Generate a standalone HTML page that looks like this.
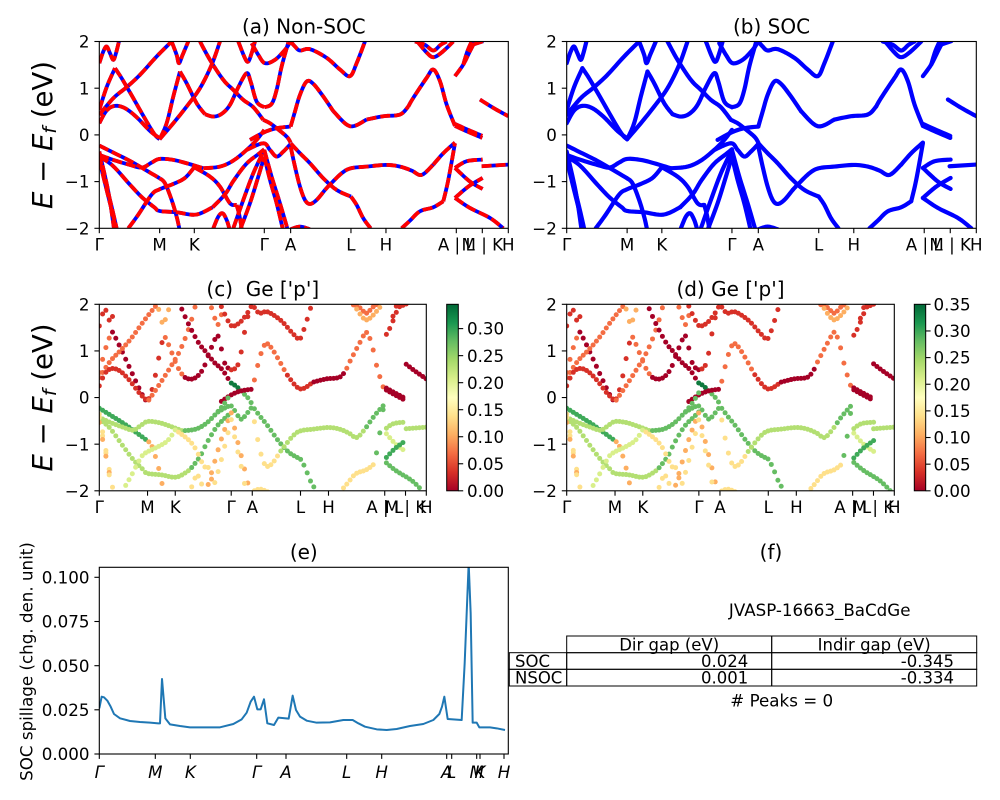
<!DOCTYPE html>
<html><head><meta charset="utf-8">
<style>
html,body{margin:0;padding:0;background:#fff;}
svg{display:block;font-family:"DejaVu Sans","Liberation Sans",sans-serif;}
.t{font-size:16.7px;fill:#000;}
.ti{font-size:20px;fill:#000;}
.tm{font-size:16.7px;fill:#000;}
.tb{font-size:16.5px;fill:#000;}
.it{font-style:italic;}
</style></head><body>
<svg id="s" width="1000" height="800" viewBox="0 0 1000 800" xmlns="http://www.w3.org/2000/svg">
<defs>
<clipPath id="cA"><rect x="99.3" y="41.5" width="409" height="186.8"/></clipPath>
<clipPath id="cB"><rect x="566.7" y="41.5" width="409.6" height="186.8"/></clipPath>
<clipPath id="cC"><rect x="99.3" y="304.3" width="327" height="186.5"/></clipPath>
<clipPath id="cD"><rect x="566.7" y="304.3" width="327.6" height="186.5"/></clipPath>
<clipPath id="cE"><rect x="99.3" y="567.3" width="409" height="186.7"/></clipPath>
<linearGradient id="cmap" x1="0" y1="1" x2="0" y2="0">
<stop offset="0" stop-color="#a50026"/><stop offset="0.1" stop-color="#d73027"/>
<stop offset="0.2" stop-color="#f46d43"/><stop offset="0.3" stop-color="#fdae61"/>
<stop offset="0.4" stop-color="#fee08b"/><stop offset="0.5" stop-color="#ffffbf"/>
<stop offset="0.6" stop-color="#d9ef8b"/><stop offset="0.7" stop-color="#a6d96a"/>
<stop offset="0.8" stop-color="#66bd63"/><stop offset="0.9" stop-color="#1a9850"/>
<stop offset="1" stop-color="#006837"/>
</linearGradient>
</defs>
<g id="gA" clip-path="url(#cA)"></g>
<g id="gB" clip-path="url(#cB)"></g>
<g id="gC" clip-path="url(#cC)"></g>
<g id="gD" clip-path="url(#cD)"></g>
<g id="gE" clip-path="url(#cE)"></g>
<g id="gT"></g>

<!-- colorbars -->
<rect x="446.7" y="304.3" width="11.6" height="186.5" fill="url(#cmap)" stroke="#000" stroke-width="1"/>
<rect x="914.3" y="304.3" width="11.4" height="186.5" fill="url(#cmap)" stroke="#000" stroke-width="1"/>

<!-- titles -->
<text class="ti" x="303.8" y="33.3" text-anchor="middle">(a) Non-SOC</text>
<text class="ti" x="771.5" y="33.3" text-anchor="middle">(b) SOC</text>
<text class="ti" x="262.8" y="296.2" text-anchor="middle">(c)&#160; Ge ['p']</text>
<text class="ti" x="730.5" y="296.2" text-anchor="middle">(d) Ge ['p']</text>
<text class="ti" x="303.8" y="559" text-anchor="middle">(e)</text>
<text class="ti" x="771" y="559" text-anchor="middle">(f)</text>

<!-- ylabels -->
<text transform="translate(52,135) rotate(-90)" text-anchor="middle" font-size="27.5"><tspan class="it">E</tspan> − <tspan class="it">E</tspan><tspan class="it" font-size="19" dy="4">f</tspan><tspan dy="-4"> (eV)</tspan></text>
<text transform="translate(52,397.5) rotate(-90)" text-anchor="middle" font-size="27.5"><tspan class="it">E</tspan> − <tspan class="it">E</tspan><tspan class="it" font-size="19" dy="4">f</tspan><tspan dy="-4"> (eV)</tspan></text>
<text class="t" transform="translate(32.3,661.5) rotate(-90)" text-anchor="middle">SOC spillage (chg. den. unit)</text>

<!-- y tick labels -->
<g class="t" text-anchor="end">
<text x="89.5" y="47.6">2</text><text x="89.5" y="94.3">1</text><text x="89.5" y="141">0</text><text x="89.5" y="187.7">−1</text><text x="89.5" y="234.4">−2</text>
<text x="556.9" y="47.6">2</text><text x="556.9" y="94.3">1</text><text x="556.9" y="141">0</text><text x="556.9" y="187.7">−1</text><text x="556.9" y="234.4">−2</text>
<text x="89.5" y="310.4">2</text><text x="89.5" y="357">1</text><text x="89.5" y="403.7">0</text><text x="89.5" y="450.3">−1</text><text x="89.5" y="496.9">−2</text>
<text x="556.9" y="310.4">2</text><text x="556.9" y="357">1</text><text x="556.9" y="403.7">0</text><text x="556.9" y="450.3">−1</text><text x="556.9" y="496.9">−2</text>
<text x="89.5" y="760.1">0.000</text><text x="89.5" y="715.9">0.025</text><text x="89.5" y="671.8">0.050</text><text x="89.5" y="627.6">0.075</text><text x="89.5" y="583.4">0.100</text>
</g>
<!-- colorbar labels -->
<g class="t">
<text x="467" y="496.9">0.00</text><text x="467" y="469.9">0.05</text><text x="467" y="442.8">0.10</text><text x="467" y="415.8">0.15</text><text x="467" y="388.8">0.20</text><text x="467" y="361.8">0.25</text><text x="467" y="334.7">0.30</text>
<text x="933.5" y="496.9">0.00</text><text x="933.5" y="470.3">0.05</text><text x="933.5" y="443.6">0.10</text><text x="933.5" y="417">0.15</text><text x="933.5" y="390.3">0.20</text><text x="933.5" y="363.7">0.25</text><text x="933.5" y="337.1">0.30</text><text x="933.5" y="310.4">0.35</text>
</g>
<!-- x tick labels -->
<g class="t" text-anchor="middle">
<text x="99.3" y="250.3">Γ</text><text x="159.6" y="250.3">M</text><text x="194.3" y="250.3">K</text><text x="264.3" y="250.3">Γ</text><text x="290.6" y="250.3">A</text><text x="350.9" y="250.3">L</text><text x="385.9" y="250.3">H</text><text x="456.3" y="250.3">A | L</text><text x="482.3" y="250.3">M | K</text><text x="508.3" y="250.3">H</text>
<text x="566.7" y="250.3">Γ</text><text x="627.1" y="250.3">M</text><text x="661.9" y="250.3">K</text><text x="731.9" y="250.3">Γ</text><text x="758.3" y="250.3">A</text><text x="818.7" y="250.3">L</text><text x="853.8" y="250.3">H</text><text x="924.2" y="250.3">A | L</text><text x="950.2" y="250.3">M | K</text><text x="976.3" y="250.3">H</text>
<text x="99.3" y="512.8">Γ</text><text x="147.5" y="512.8">M</text><text x="175.3" y="512.8">K</text><text x="231.2" y="512.8">Γ</text><text x="252.3" y="512.8">A</text><text x="300.5" y="512.8">L</text><text x="328.5" y="512.8">H</text><text x="384.7" y="512.8">A | L</text><text x="405.5" y="512.8">M | K</text><text x="426.3" y="512.8">H</text>
<text x="566.7" y="512.8">Γ</text><text x="615.0" y="512.8">M</text><text x="642.8" y="512.8">K</text><text x="698.9" y="512.8">Γ</text><text x="720.0" y="512.8">A</text><text x="768.3" y="512.8">L</text><text x="796.4" y="512.8">H</text><text x="852.7" y="512.8">A | L</text><text x="873.5" y="512.8">M | K</text><text x="894.3" y="512.8">H</text>
</g>
<g class="t it" text-anchor="middle">
<text x="99.3" y="778">Γ</text><text x="155.3" y="778">M</text><text x="190.3" y="778">K</text><text x="256.7" y="778">Γ</text><text x="286" y="778">A</text><text x="346.7" y="778">L</text><text x="381.7" y="778">H</text><text x="446.7" y="778">A</text><text x="451.7" y="778">L</text><text x="476.7" y="778">M</text><text x="480" y="778">K</text><text x="504" y="778">H</text>
</g>

<!-- table (f) -->
<g fill="none" stroke="#000" stroke-width="1">
<rect x="566.7" y="636" width="205" height="16.7"/><rect x="771.7" y="636" width="205" height="16.7"/>
<rect x="509.3" y="652.7" width="57.4" height="16.6"/><rect x="566.7" y="652.7" width="205" height="16.6"/><rect x="771.7" y="652.7" width="205" height="16.6"/>
<rect x="509.3" y="669.3" width="57.4" height="16.7"/><rect x="566.7" y="669.3" width="205" height="16.7"/><rect x="771.7" y="669.3" width="205" height="16.7"/>
</g>
<g class="tb">
<text x="669.2" y="650.5" text-anchor="middle">Dir gap (eV)</text>
<text x="874.2" y="650.5" text-anchor="middle">Indir gap (eV)</text>
<text x="515" y="667">SOC</text>
<text x="748.3" y="667" text-anchor="end">0.024</text>
<text x="954" y="667" text-anchor="end">-0.345</text>
<text x="515" y="683.5">NSOC</text>
<text x="748.3" y="683.5" text-anchor="end">0.001</text>
<text x="954" y="683.5" text-anchor="end">-0.334</text>
</g>
<text class="tm" x="819.7" y="616" text-anchor="middle">JVASP-16663_BaCdGe</text>
<text class="tm" x="781.7" y="706.7" text-anchor="middle"># Peaks = 0</text>
</svg>
<script>
(function(){
var NS="http://www.w3.org/2000/svg";
function el(tag,a,p){var e=document.createElementNS(NS,tag);for(var k in a)e.setAttribute(k,a[k]);p.appendChild(e);return e;}
var P={A:{x0:99.3,x1:508.3,y0:41.5,y1:228.3},B:{x0:566.7,x1:976.3,y0:41.5,y1:228.3},
C:{x0:99.3,x1:426.3,y0:304.3,y1:490.8},D:{x0:566.7,x1:894.3,y0:304.3,y1:490.8}};
function mx(p,u){return p.x0+(u-298)/1227*(p.x1-p.x0);}
function my(p,v){return p.y0+(v-125)/560*(p.y1-p.y0);}
var C={DR:'#a50026',R:'#d73027',O:'#f46d43',LO:'#fdae61',Y:'#fee08b',YG:'#d9ef8b',LG:'#b3df72',G:'#66bd63',DG:'#3faa59',DDG:'#0f7a3e'};
var B=[
['R',[[298,190],[310,155],[320,140],[330,160],[340,180],[348,160],[357,125]]],
['O',[[298,330],[320,262],[345,205]]],
['DR',[[345,205],[365,235],[400,295],[440,365],[465,405],[479,418]]],
['O',[[298,345],[340,295],[380,262],[420,225],[470,170],[515,125]]],
['R',[[298,370],[320,332],[345,318],[375,325],[410,352],[450,393],[479,415]]],
['R',[[479,418],[500,370],[520,290],[540,215]]],
['O',[[540,215],[560,250],[590,310],[615,343]]],
['DR',[[615,343],[640,350],[665,342],[690,315],[715,262],[740,220],[752,245],[770,305],[793,322]]],
['R',[[793,322],[815,312],[830,270],[845,200],[865,128]]],
['O',[[479,418],[520,370],[560,320],[600,265],[635,195],[660,125]]],
['LO',[[515,125],[530,165],[537,190],[548,165],[565,125]]],
['DR',[[600,125],[630,180],[670,240],[700,270],[730,300],[760,322],[790,360]]],
['O',[[715,125],[735,175],[745,185],[755,160],[765,125]]],
['R',[[755,130],[775,165],[795,190],[825,180],[855,150],[870,128]]],
['DDG',[[790,360],[810,370],[830,385]]],
['G',[[830,385],[860,410],[872,428]]],
['DR',[[750,420],[793,397],[830,385],[872,380]]],
['DG',[[298,437],[340,458],[390,483],[440,512],[479,535]]],
['LO',[[479,535],[495,550],[515,600],[530,650],[538,685]]],
['LG',[[298,465],[340,480],[390,495],[426,503],[455,488],[479,477],[520,480],[560,490],[610,505]]],
['G',[[610,505],[660,500],[700,482],[740,450],[770,420],[793,390]]],
['G',[[740,450],[790,430],[810,450],[830,470],[850,455],[872,432]]],
['LG',[[298,470],[338,497],[388,552],[426,592],[463,622],[479,633],[530,637],[588,644],[638,622]]],
['G',[[638,622],[676,582],[701,542],[739,492],[776,462],[793,448]]],
['YG',[[385,685],[415,644],[455,584],[479,568],[520,552],[555,534],[583,502]]],
['Y',[[583,502],[630,530],[660,560],[690,610],[710,615]]],
['LO',[[710,615],[718,645],[725,685]]],
['Y',[[298,465],[315,540],[335,620],[350,685]]],
['LO',[[298,480],[320,570],[340,650],[347,685]]],
['Y',[[298,455],[325,575],[342,685]]],
['LO',[[700,685],[730,600],[760,520],[793,450]]],
['Y',[[722,685],[750,610],[775,530],[793,470]]],
['LO',[[793,450],[815,530],[840,610],[862,685]]],
['Y',[[793,470],[810,540],[830,610],[848,685]]],
['Y',[[640,685],[655,650],[668,640],[680,660],[688,685]]],
['G',[[872,430],[900,460],[930,490],[970,535],[1010,570],[1053,590]]],
['G',[[1053,590],[1070,615],[1090,655],[1112,685]]],
['Y',[[872,440],[885,500],[900,560],[915,600],[930,612],[950,600],[975,570]]],
['LG',[[975,570],[990,554],[1025,520],[1053,505],[1100,500],[1158,495],[1200,500],[1235,512],[1265,525],[1300,494]]],
['G',[[1300,494],[1330,460],[1365,428]]],
['R',[[872,125],[885,140],[900,152],[930,148],[980,174],[1020,209],[1050,229],[1070,190],[1095,125]]],
['O',[[872,380],[885,335],[900,285],[920,245],[940,252],[970,290],[1000,334]]],
['R',[[1000,334],[1050,379],[1100,359]]],
['DR',[[1100,359],[1150,349],[1200,344],[1225,320]]],
['O',[[1225,320],[1240,294],[1280,234],[1300,209],[1320,244],[1340,314],[1365,378]]],
['DR',[[1365,378],[1400,394],[1447,414]]],
['DR',[[1365,372],[1400,388],[1447,408]]],
['O',[[1245,125],[1275,135],[1300,152],[1322,135],[1340,125]]],
['LO',[[1252,125],[1280,158],[1300,172],[1325,158],[1360,125]]],
['R',[[1365,229],[1390,194],[1410,154],[1425,125]]],
['R',[[1390,194],[1402,155],[1415,125]]],
['R',[[1420,134],[1450,124]]],
['Y',[[1205,685],[1230,662],[1260,634],[1300,622],[1330,604]]],
['G',[[1330,604],[1345,540],[1365,430]]],
['Y',[[872,688],[900,680],[930,688]]],
['LG',[[1365,504],[1400,484],[1448,479]]],
['YG',[[1365,504],[1410,545],[1448,567]]],
['DG',[[1365,594],[1405,560],[1448,534]]],
['G',[[1365,594],[1410,624],[1470,654],[1510,685]]],
['DR',[[1440,299],[1480,324],[1525,349]]],
['LG',[[1445,499],[1525,494]]]
];
function smooth(pts){var n=pts.length;if(n<3)return pts;var out=[];
for(var i=0;i<n-1;i++){var p0=pts[Math.max(i-1,0)],p1=pts[i],p2=pts[i+1],p3=pts[Math.min(i+2,n-1)];
for(var s=0;s<8;s++){var t=s/8,t2=t*t,t3=t2*t;var r=[0,0];
for(var k=0;k<2;k++){r[k]=0.5*(2*p1[k]+(-p0[k]+p2[k])*t+(2*p0[k]-5*p1[k]+4*p2[k]-p3[k])*t2+(-p0[k]+3*p1[k]-3*p2[k]+p3[k])*t3);}
out.push(r);}}
out.push(pts[n-1]);return out;}
var S=B.map(function(b){return [b[0],smooth(b[1])];});
function pathD(p,pts){var d='';for(var i=0;i<pts.length;i++){d+=(i?'L':'M')+mx(p,pts[i][0]).toFixed(2)+' '+my(p,pts[i][1]).toFixed(2);}return d;}
var gA=document.getElementById('gA'),gB=document.getElementById('gB');
S.forEach(function(b){el('path',{d:pathD(P.A,b[1]),fill:'none',stroke:'#0000ff','stroke-width':3.8,'stroke-linejoin':'round'},gA);});
S.forEach(function(b){el('path',{d:pathD(P.A,b[1]),fill:'none',stroke:'#ff0000','stroke-width':3.8,'stroke-dasharray':'10 4','stroke-linejoin':'round'},gA);});
S.forEach(function(b){el('path',{d:pathD(P.B,b[1]),fill:'none',stroke:'#0000ff','stroke-width':4.2,'stroke-linejoin':'round','stroke-linecap':'round'},gB);});
function dots(pk,gid){var p=P[pk],g=document.getElementById(gid),dx=3.3;
S.forEach(function(b){var col=C[b[0]],pts=b[1],used={};
for(var i=0;i<pts.length-1;i++){var xa=mx(p,pts[i][0]),ya=my(p,pts[i][1]),xb=mx(p,pts[i+1][0]),yb=my(p,pts[i+1][1]);
if(Math.abs(xb-xa)<0.001)continue;var lo=Math.min(xa,xb),hi=Math.max(xa,xb);
var n0=Math.ceil((lo-p.x0)/dx),n1=Math.floor((hi-p.x0)/dx);
for(var n=n0;n<=n1;n++){if(used[n])continue;var x=p.x0+n*dx;var y=ya+(yb-ya)*(x-xa)/(xb-xa);
el('circle',{cx:x.toFixed(2),cy:y.toFixed(2),r:2.5,fill:col},g);used[n]=1;}}});}
dots('C','gC');dots('D','gD');
// (e) curve
var E=[[298,535],[305,500],[312,502],[322,512],[332,530],[342,552],[360,565],[390,573],[420,576],[450,578],[475,580],[480,580],[486,447],[496,565],[510,583],[540,588],[570,592],[620,592],[660,592],[700,582],[725,568],[740,548],[752,515],[762,500],[772,538],[782,538],[792,508],[802,580],[822,585],[835,563],[866,566],[878,497],[888,540],[900,560],[920,572],[950,578],[990,577],[1030,570],[1058,570],[1075,580],[1095,590],[1130,598],[1160,600],[1190,597],[1230,588],[1270,582],[1300,570],[1318,552],[1326,530],[1333,500],[1343,567],[1385,570],[1394,400],[1400,250],[1406,100],[1412,250],[1418,578],[1430,578],[1438,592],[1470,592],[1490,595],[1515,600]];
var d='';E.forEach(function(q,i){d+=(i?'L':'M')+(q[0]/3).toFixed(2)+' '+(530+q[1]/3).toFixed(2);});
el('path',{d:d,fill:'none',stroke:'#1f77b4','stroke-width':2,'stroke-linejoin':'round'},document.getElementById('gE'));
// frames and ticks
var gT=document.getElementById('gT');
var frames=[[99.3,41.5,409,186.8],[566.7,41.5,409.6,186.8],[99.3,304.3,327,186.5],[566.7,304.3,327.6,186.5],[99.3,567.3,409,186.7]];
frames.forEach(function(f){el('rect',{x:f[0],y:f[1],width:f[2],height:f[3],fill:'none',stroke:'#000','stroke-width':1.1},gT);});
function tick(x1,y1,x2,y2){el('line',{x1:x1,y1:y1,x2:x2,y2:y2,stroke:'#000','stroke-width':1.1},gT);}
var ku=[298,479,583,793,872,1053,1158,1369,1447,1525];
['A','B','C','D'].forEach(function(k){var p=P[k];
ku.forEach(function(u){var x=mx(p,u);tick(x,p.y1,x,p.y1+4.9);});
for(var e=-2;e<=2;e++){var y=p.y0+(2-e)/4*(p.y1-p.y0);tick(p.x0,y,p.x0-4.9,y);}});
[99.3,155.3,190.3,256.7,286,346.7,381.7,446.7,451.7,476.7,480,504].forEach(function(x){tick(x,754,x,758.9);});
[754,709.8,665.7,621.5,577.3].forEach(function(y){tick(99.3,y,94.4,y);});
for(var i=0;i<7;i++){var y=490.8-i*27.03;tick(458.3,y,463.2,y);}
for(var i=0;i<8;i++){var y=490.8-i*26.64;tick(925.7,y,930.6,y);}
})();
</script>
</body></html>
